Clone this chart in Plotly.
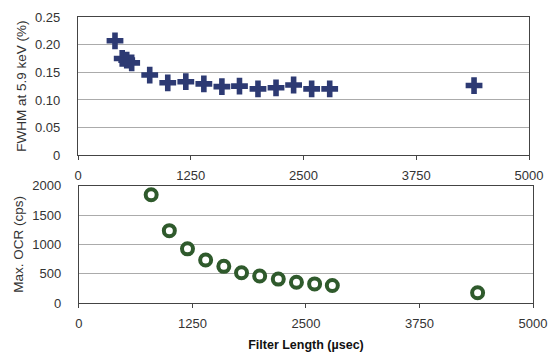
import plotly.graph_objects as go

# FWHM data
fwhm_x = [410, 490, 540, 595, 795, 995, 1195, 1395, 1595, 1790, 1995, 2195, 2390, 2590, 2790, 4390]
fwhm_y = [0.207, 0.175, 0.172, 0.167, 0.145, 0.131, 0.133, 0.129, 0.124, 0.125, 0.120, 0.122, 0.127, 0.120, 0.120, 0.126]

# OCR data
ocr_x = [795, 995, 1195, 1395, 1595, 1790, 1990, 2195, 2395, 2595, 2790, 4390]
ocr_y = [1847, 1234, 924, 733, 625, 516, 461, 408, 353, 326, 299, 174]

x_ticks = [0, 1250, 2500, 3750, 5000]
y1_ticks = [0, 0.05, 0.10, 0.15, 0.20, 0.25]
y1_text = ["0", "0.05", "0.10", "0.15", "0.20", "0.25"]
y2_ticks = [0, 500, 1000, 1500, 2000]

fig = go.Figure()
fig.add_trace(go.Scatter(
    x=fwhm_x, y=fwhm_y, mode="markers", xaxis="x", yaxis="y",
    marker=dict(symbol="cross", size=14, color="#2d3a73", line=dict(width=0)),
    showlegend=False))
fig.add_trace(go.Scatter(
    x=ocr_x, y=ocr_y, mode="markers", xaxis="x2", yaxis="y2",
    marker=dict(symbol="circle", size=11, color="white", line=dict(width=4, color="#2f5a2c")),
    showlegend=False))

FAM = "Liberation Sans, Arial, sans-serif"
font = dict(family=FAM, size=13, color="#333")
axis_common = dict(showline=True, mirror=True, linecolor="#444", linewidth=1.3,
                   zeroline=False, tickfont=font)

fig.update_layout(
    width=557, height=360,
    margin=dict(l=78, r=16, t=10, b=50),
    paper_bgcolor="white", plot_bgcolor="white",
    font=font,
    xaxis=dict(domain=[0, 459/463], range=[0, 5000], tickvals=x_ticks, showgrid=False,
               ticks="outside", ticklen=4, tickcolor="#444", ticklabelstandoff=4,
               anchor="y", **axis_common),
    yaxis=dict(domain=[155/300, 1.0], range=[0, 0.25], tickvals=y1_ticks, ticktext=y1_text,
               showgrid=True, gridcolor="#ababab", gridwidth=1, ticks="", ticklabelstandoff=14,
               title=dict(text="FWHM at 5.9 keV (%)", font=dict(family=FAM, size=13.5, color="#333"), standoff=5),
               anchor="x", **axis_common),
    xaxis2=dict(domain=[1/463, 1.0], range=[0, 5000], tickvals=x_ticks, showgrid=False,
                ticks="outside", ticklen=4, tickcolor="#444", ticklabelstandoff=4,
                anchor="y2",
                title=dict(text="<b>Filter Length (µsec)</b>", font=dict(family=FAM, size=12.5, color="#111"), standoff=10),
                **axis_common),
    yaxis2=dict(domain=[0, 123/300], range=[0, 2000], tickvals=y2_ticks,
                showgrid=True, gridcolor="#ababab", gridwidth=1, ticks="", ticklabelstandoff=14,
                title=dict(text="Max. OCR (cps)", font=dict(family=FAM, size=13.5, color="#333"), standoff=5),
                anchor="x2", **axis_common),
)

fig.write_html("out.html")
